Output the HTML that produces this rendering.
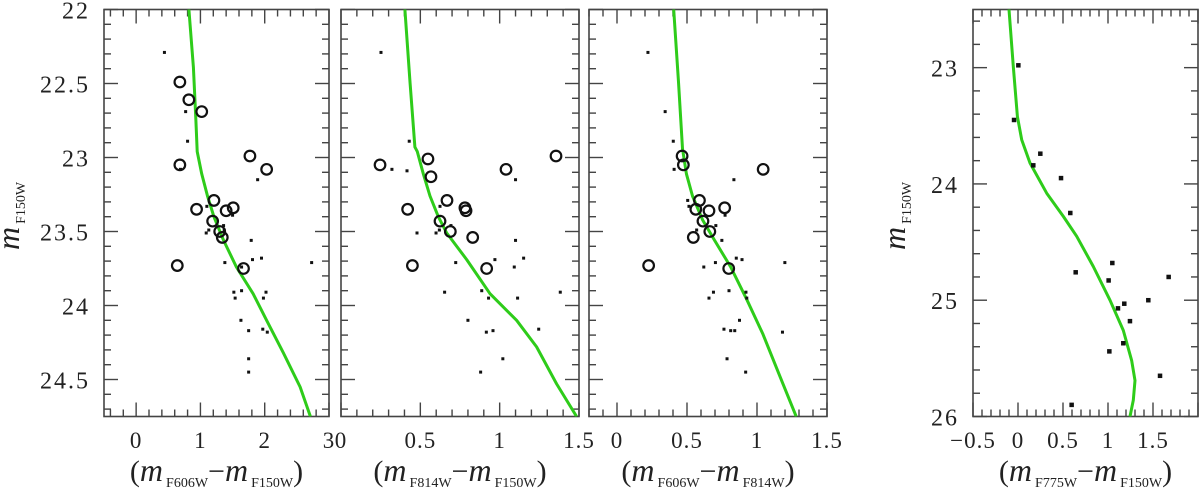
<!DOCTYPE html>
<html><head><meta charset="utf-8"><style>
html,body{margin:0;padding:0;background:#fff;}
svg{display:block;}
text{font-family:"Liberation Serif",serif;fill:#222;}
</style></head><body>
<svg id="chart" width="1200" height="490" viewBox="0 0 1200 490" xmlns="http://www.w3.org/2000/svg"></svg>
<script>
// ---------- Panel 1: (F606W - F150W) ----------
const p1CircX = [0.68,0.82,1.02,0.68,1.77,2.03,1.21,0.94,1.40,1.51,1.19,1.30,1.34,0.64,1.67];
const p1CircY = [22.49,22.61,22.69,23.05,22.99,23.08,23.29,23.35,23.36,23.34,23.43,23.50,23.54,23.73,23.75];
const p1DotX = [0.44,0.77,0.80,0.69,1.89,1.10,1.50,1.36,1.09,1.13,1.37,1.79,1.38,1.81,1.95,2.73,1.64,1.52,1.64,1.54,2.02,1.98,1.63,1.75,1.97,2.04,1.75,1.75];
const p1DotY = [22.29,22.69,22.89,23.08,23.15,23.33,23.39,23.46,23.51,23.49,23.49,23.56,23.71,23.69,23.68,23.71,23.74,23.91,23.90,23.95,23.91,23.95,24.10,24.17,24.16,24.18,24.36,24.45];
const p1IsoX = [0.82,0.89,0.93,0.95,1.02,1.11,1.21,1.36,1.56,1.82,2.03,2.29,2.55,2.71];
const p1IsoY = [22.0,22.39,22.75,22.96,23.11,23.26,23.40,23.56,23.74,23.92,24.10,24.32,24.55,24.75];
const p1XTicks = ["0","1","2","3"];
// ---------- Panel 2: (F814W - F150W) ----------
const p2CircX = [0.246,0.42,0.45,0.548,0.567,0.668,0.781,0.788,0.624,0.689,0.83,0.918,1.04,1.355];
const p2CircY = [23.05,23.35,23.73,23.01,23.13,23.29,23.34,23.36,23.43,23.50,23.54,23.75,23.08,22.99];
const p2DotX = [0.252,0.43,0.321,0.416,1.10,0.624,0.693,0.62,0.599,0.479,1.10,0.723,0.97,1.151,1.092,0.653,0.887,0.93,1.113,1.382,0.80,0.916,0.958,1.246,1.02,0.88];
const p2DotY = [22.29,22.89,23.08,23.09,23.15,23.33,23.46,23.49,23.51,23.51,23.56,23.71,23.69,23.68,23.74,23.91,23.90,23.95,23.95,23.91,24.10,24.18,24.17,24.16,24.36,24.45];
const p2IsoX = [0.403,0.435,0.466,0.481,0.519,0.561,0.613,0.666,0.792,0.939,1.107,1.233,1.359,1.485];
const p2IsoY = [22.0,22.49,22.93,22.96,23.11,23.26,23.40,23.51,23.69,23.92,24.10,24.28,24.53,24.75];
const p2XTicks = ["0","0.5","1","1.5"];
// ---------- Panel 3: (F606W - F814W) ----------
const p3CircX = [0.465,0.474,0.589,0.563,0.657,0.769,0.614,0.663,0.545,0.226,0.798,1.044];
const p3CircY = [22.99,23.05,23.29,23.35,23.36,23.34,23.43,23.50,23.54,23.73,23.75,23.08];
const p3DotX = [0.221,0.344,0.402,0.408,0.835,0.505,0.514,0.772,0.706,0.569,0.749,0.852,0.893,0.62,0.703,1.199,0.689,0.657,0.80,0.921,0.927,0.875,0.764,0.812,0.841,1.182,0.786,0.919];
const p3DotY = [22.29,22.69,22.89,23.08,23.15,23.29,23.33,23.39,23.46,23.49,23.56,23.68,23.69,23.74,23.71,23.71,23.91,23.95,23.90,23.91,23.95,24.10,24.16,24.17,24.17,24.18,24.36,24.45];
const p3IsoX = [0.405,0.439,0.468,0.496,0.539,0.611,0.697,0.812,0.927,1.041,1.156,1.28];
const p3IsoY = [22.0,22.49,22.94,23.11,23.26,23.42,23.56,23.74,23.96,24.19,24.46,24.75];
const p3XTicks = ["0","0.5","1","1.5"];
// ---------- Panel 4: (F775W - F150W) ----------
const p4DotX = [0.004,-0.044,0.248,0.17,0.478,0.581,0.641,1.048,1.007,1.674,1.448,1.181,1.111,1.244,1.17,1.015,1.578,0.596];
const p4DotY = [22.98,23.45,23.74,23.84,23.95,24.25,24.76,24.68,24.83,24.80,25.0,25.03,25.07,25.18,25.37,25.44,25.65,25.90];
const p4IsoX = [-0.1,-0.052,-0.007,0.041,0.133,0.319,0.504,0.652,0.837,1.022,1.17,1.263,1.30,1.281,1.244];
const p4IsoY = [22.5,22.99,23.42,23.62,23.82,24.08,24.28,24.45,24.71,25.0,25.26,25.52,25.69,25.86,26.0];
const p4XTicks = ["-0.5","0","0.5","1","1.5"];
const yTicksA = ["22","22.5","23","23.5","24","24.5"];
const yTicksB = ["23","24","25","26"];

const NS = "http://www.w3.org/2000/svg";
const svg = document.getElementById('chart');
function mk(tag, attrs, parent){
  const e = document.createElementNS(NS, tag);
  for (const k in attrs) e.setAttribute(k, attrs[k]);
  (parent||svg).appendChild(e);
  return e;
}
function panel(cfg){
  const g = mk('g', {});
  
  
  const sx = v => cfg.x0 + (v - cfg.xmin) / (cfg.xmax - cfg.xmin) * (cfg.x1 - cfg.x0);
  const sy = v => cfg.y0 + (v - cfg.ymin) / (cfg.ymax - cfg.ymin) * (cfg.y1 - cfg.y0);
  const tk = {stroke:'#444','stroke-width':1.4};
  const xs = Math.ceil(cfg.xmin/cfg.xMinor - 1e-6), xe = Math.floor(cfg.xmax/cfg.xMinor + 1e-6);
  const perX = Math.round(cfg.xMajor/cfg.xMinor);
  for (let i = xs; i <= xe; i++) {
    const v = i*cfg.xMinor; const L = (i % perX === 0) ? 14 : 7; const x = sx(v);
    mk('line', Object.assign({x1:x, x2:x, y1:cfg.y1, y2:cfg.y1-L}, tk), g);
    mk('line', Object.assign({x1:x, x2:x, y1:cfg.y0, y2:cfg.y0+L}, tk), g);
  }
  const ys = Math.ceil(cfg.ymin/cfg.yMinor - 1e-6), ye = Math.floor(cfg.ymax/cfg.yMinor + 1e-6);
  const perY = Math.round(cfg.yMajor/cfg.yMinor);
  for (let i = ys; i <= ye; i++) {
    const v = i*cfg.yMinor; const L = (i % perY === 0) ? 14 : 7; const y = sy(v);
    mk('line', Object.assign({x1:cfg.x0, x2:cfg.x0+L, y1:y, y2:y}, tk), g);
    mk('line', Object.assign({x1:cfg.x1, x2:cfg.x1-L, y1:y, y2:y}, tk), g);
  }
  const fr = mk('rect', {x:cfg.x0, y:cfg.y0, width:cfg.x1-cfg.x0, height:cfg.y1-cfg.y0, fill:'none', stroke:'#444','stroke-width':1.6}, g);
  
  
  cfg.xTicks.forEach(t => {
    const v = parseFloat(t);
    const tx = mk('text', {x:sx(v), y:448, 'text-anchor':'middle','font-size':23,'letter-spacing':1}, g);
    tx.textContent = t.replace('-', '\u2212');
    
    
  });
  if (cfg.yTicks) cfg.yTicks.forEach(t => {
    const v = parseFloat(t);
    const ty = mk('text', {x:cfg.x0-14, y:sy(v)+9, 'text-anchor':'end','font-size':24,'letter-spacing':2}, g);
    ty.textContent = t;
    
    
  });
  const cid = 'clip-' + cfg.name;
  const cp = mk('clipPath', {id:cid}, g);
  mk('rect', {x:cfg.x0, y:cfg.y0, width:cfg.x1-cfg.x0, height:cfg.y1-cfg.y0}, cp);
  const dg = mk('g', {'clip-path':'url(#'+cid+')'}, g);
  let d = '';
  cfg.isoX.forEach((v,i) => { d += (i?'L':'M') + sx(v).toFixed(1) + ' ' + sy(cfg.isoY[i]).toFixed(1); });
  const iso = mk('path', {d:d, fill:'none', stroke:'#2ecc1a','stroke-width':3,'stroke-linejoin':'round'}, dg);
  
  
  cfg.dotX.forEach((v,i) => {
    const s = cfg.dotSize;
    const r = mk('rect', {x:sx(v)-s/2, y:sy(cfg.dotY[i])-s/2, width:s, height:s, fill:'#111'}, dg);
    
    
  });
  (cfg.circX||[]).forEach((v,i) => {
    const c = mk('circle', {cx:sx(v), cy:sy(cfg.circY[i]), r:5.3, fill:'none', stroke:'#111','stroke-width':2.2}, dg);
    
    
  });
  const cx = (cfg.x0 + cfg.x1) / 2;
  const xt = mk('text', {x:cx, y:481, 'text-anchor':'middle'}, g);
  
  
  xt.innerHTML = '<tspan font-size="30">(</tspan><tspan font-size="32" font-style="italic">m</tspan><tspan font-size="14" dy="6" dx="3">'+cfg.b1+'</tspan><tspan font-size="30" dy="-6">\u2212</tspan><tspan font-size="32" font-style="italic">m</tspan><tspan font-size="14" dy="6" dx="3">'+cfg.b2+'</tspan><tspan font-size="30" dy="-6">)</tspan>';
}
panel({name:'panel-f606w-f150w', x0:104, x1:329, y0:9.5, y1:416.5, xmin:-0.5, xmax:3.0, ymin:22, ymax:24.75,
  xMinor:0.2, xMajor:1, yMinor:0.1, yMajor:0.5, xTicks:p1XTicks, yTicks:yTicksA,
  circX:p1CircX, circY:p1CircY, dotX:p1DotX, dotY:p1DotY, isoX:p1IsoX, isoY:p1IsoY, dotSize:3, b1:'F606W', b2:'F150W'});
panel({name:'panel-f814w-f150w', x0:341, x1:579, y0:9.5, y1:416.5, xmin:0, xmax:1.5, ymin:22, ymax:24.75,
  xMinor:0.1, xMajor:0.5, yMinor:0.1, yMajor:0.5, xTicks:p2XTicks, yTicks:null,
  circX:p2CircX, circY:p2CircY, dotX:p2DotX, dotY:p2DotY, isoX:p2IsoX, isoY:p2IsoY, dotSize:3, b1:'F814W', b2:'F150W'});
panel({name:'panel-f606w-f814w', x0:589, x1:827, y0:9.5, y1:416.5, xmin:-0.2, xmax:1.5, ymin:22, ymax:24.75,
  xMinor:0.1, xMajor:0.5, yMinor:0.1, yMajor:0.5, xTicks:p3XTicks, yTicks:null,
  circX:p3CircX, circY:p3CircY, dotX:p3DotX, dotY:p3DotY, isoX:p3IsoX, isoY:p3IsoY, dotSize:3, b1:'F606W', b2:'F814W'});
panel({name:'panel-f775w-f150w', x0:973, x1:1198, y0:9.5, y1:416.5, xmin:-0.5, xmax:2.0, ymin:22.5, ymax:26,
  xMinor:0.1, xMajor:0.5, yMinor:0.2, yMajor:1, xTicks:p4XTicks, yTicks:yTicksB,
  circX:[], circY:[], dotX:p4DotX, dotY:p4DotY, isoX:p4IsoX, isoY:p4IsoY, dotSize:4.5, b1:'F775W', b2:'F150W'});
function yTitle(x, y, name){
  const t = mk('text', {transform:'translate('+x+','+y+') rotate(-90)'});
  
  
  t.innerHTML = '<tspan font-size="32" font-style="italic">m</tspan><tspan font-size="14" dy="6" dx="3">F150W</tspan>';
}
yTitle(19, 250, 'y-axis-title-left');
yTitle(905, 250, 'y-axis-title-right');
</script>
</body></html>
